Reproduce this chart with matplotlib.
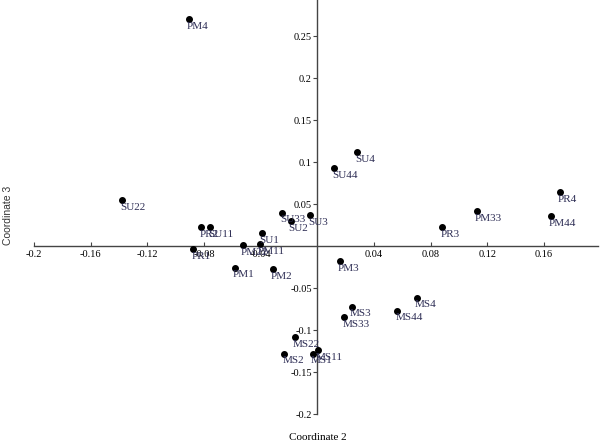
import matplotlib
matplotlib.use("Agg")
import matplotlib.pyplot as plt

labels = ["PM4", "SU22", "PR2", "SU11", "PR1", "SU1", "SU33", "SU2", "SU3",
          "PM22", "PM11", "PM1", "PM2", "PM3", "SU44", "SU4", "PR3", "PM33",
          "PM44", "PR4", "MS3", "MS33", "MS44", "MS4", "MS22", "MS2", "MS1", "MS11"]
coord2 = [-0.0908, -0.1378, -0.0819, -0.0757, -0.0875, -0.0393, -0.0247, -0.0188, -0.0049,
          -0.0527, -0.0404, -0.0581, -0.0313, 0.0160, 0.0120, 0.0282, 0.0882, 0.1127,
          0.1647, 0.1713, 0.0242, 0.0191, 0.0565, 0.0703, -0.0157, -0.0233, -0.0030, 0.0002]
coord3 = [0.2706, 0.0548, 0.0223, 0.0223, -0.0036, 0.0158, 0.0397, 0.0301, 0.0373,
          0.0012, 0.0020, -0.0258, -0.0274, -0.0179, 0.0925, 0.1115, 0.0230, 0.0417,
          0.0353, 0.0643, -0.0722, -0.0849, -0.0770, -0.0615, -0.1087, -0.1282, -0.1282, -0.1238]

xticks = [-0.2, -0.16, -0.12, -0.08, -0.04, 0.04, 0.08, 0.12, 0.16]
yticks = [-0.2, -0.15, -0.1, -0.05, 0.05, 0.1, 0.15, 0.2, 0.25]

serif = "Liberation Serif"

fig = plt.figure(figsize=(6, 4.43), dpi=100)
ax = fig.add_axes([34 / 600, 29 / 443, 564 / 600, 414 / 443])
ax.set_xlim(-0.2, 0.198)
ax.set_ylim(-0.2, 0.293)

ax.scatter(coord2, coord3, s=16, color="black", zorder=3)
for lab, x, y in zip(labels, coord2, coord3):
    ax.annotate(lab, (x, y), xytext=(-1.5, -2), textcoords="offset points",
                ha="left", va="top", fontsize=8, family=serif, color="#2e2e55")

# axes through the origin
for s in ["top", "right"]:
    ax.spines[s].set_visible(False)
ax.spines["left"].set_position(("data", 0))
ax.spines["bottom"].set_position(("data", 0))
for s in ["left", "bottom"]:
    ax.spines[s].set_color("#444444")
    ax.spines[s].set_linewidth(1)

ax.set_xticks(xticks)
ax.set_xticklabels([f"{t:g}" for t in xticks])
ax.set_yticks(yticks)
ax.set_yticklabels([f"{t:g}" for t in yticks])
ax.tick_params(axis="x", direction="in", length=3, pad=3, labelsize=7.5, color="#444444")
ax.tick_params(axis="y", direction="out", length=3, pad=1, labelsize=7.5, color="#444444")
for t in ax.get_xticklabels() + ax.get_yticklabels():
    t.set_family(serif)

fig.text(318 / 600, 1 - 437 / 443, "Coordinate 2", ha="center", va="center",
         fontsize=8, family=serif)
fig.text(8 / 600, 1 - 215 / 443, "Coordinate 3", ha="center", va="center",
         rotation=90, fontsize=7.5, family="Liberation Sans", color="#333333")

fig.savefig("out.png", dpi=100)
